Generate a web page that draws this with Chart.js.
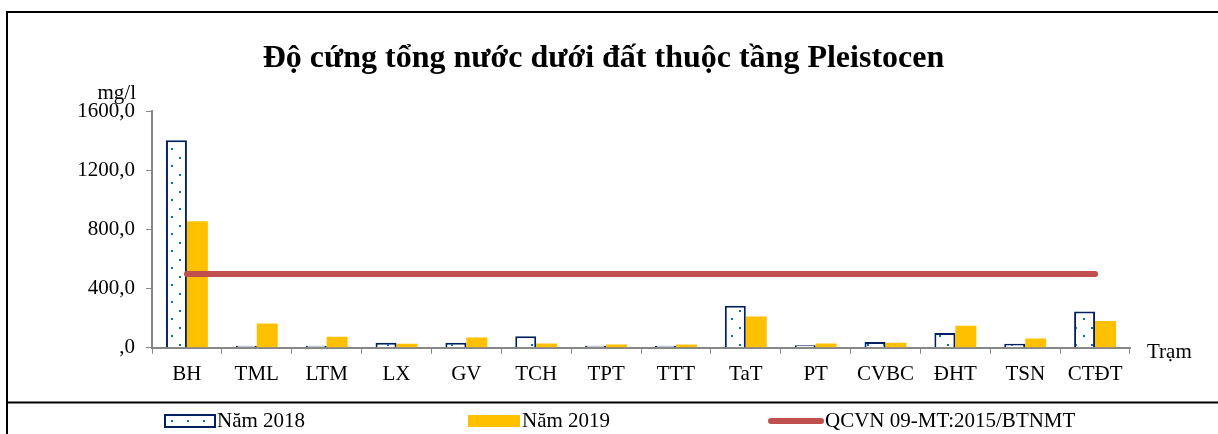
<!DOCTYPE html>
<html lang="vi">
<head>
    <meta charset="UTF-8">
    <title>Độ cứng tổng nước dưới đất thuộc tầng Pleistocen</title>
    <script src="https://cdn.jsdelivr.net/npm/chart.js"></script>
    <style>
        body { margin: 0; background: #fff; }
        canvas { display: block; }
    </style>
</head>
<body>
    <canvas id="chart" width="1218" height="434"></canvas>

    <script>
        const stations = ['BH', 'TML', 'LTM', 'LX', 'GV', 'TCH', 'TPT', 'TTT', 'TaT', 'PT', 'CVBC', 'ĐHT', 'TSN', 'CTĐT'];
        const nam2018 = [1404, 10, 6, 34, 34, 78, 13, 8, 284, 18, 40, 101, 27, 246];
        const nam2019 = [857, 164, 74, 27, 70, 29, 22, 22, 211, 29, 34, 149, 63, 182];
        const qcvn = [500, 500, 500, 500, 500, 500, 500, 500, 500, 500, 500, 500, 500, 500];
        const yTicks = [0, 400, 800, 1200, 1600];

        const serif = "'Liberation Serif', 'Times New Roman', serif";
        const axisGrey = '#868686';

        // dotted fill like the Excel pattern
        const pc = document.createElement('canvas');
        pc.width = 16; pc.height = 17;
        const pctx = pc.getContext('2d');
        pctx.fillStyle = '#fff';
        pctx.fillRect(0, 0, 16, 17);
        pctx.fillStyle = '#0070C0';
        pctx.fillRect(3, 4, 2, 2);
        pctx.fillRect(11, 12, 2, 2);
        const dots = pctx.createPattern(pc, 'repeat');

        // frame, unit labels and legend
        const extras = {
            id: 'extras',
            afterDraw(chart) {
                const ctx = chart.ctx;
                const area = chart.chartArea;
                ctx.save();
                ctx.strokeStyle = '#000';
                ctx.lineWidth = 2;
                ctx.beginPath();
                ctx.moveTo(7, 434); ctx.lineTo(7, 12); ctx.lineTo(1218, 12);
                ctx.moveTo(7, 402.5); ctx.lineTo(1218, 402.5);
                ctx.stroke();

                ctx.fillStyle = '#000';
                ctx.font = '21px ' + serif;
                ctx.textBaseline = 'alphabetic';
                ctx.textAlign = 'right';
                ctx.fillText('mg/l', area.left - 16, 99);
                ctx.textAlign = 'left';
                ctx.fillText('Trạm', area.right + 17, 358);

                // legend
                const ly = 421;
                const ds = chart.data.datasets;
                ctx.textBaseline = 'middle';
                ctx.fillStyle = dots;
                ctx.fillRect(165, ly - 6, 50, 12);
                ctx.strokeStyle = ds[0].borderColor;
                ctx.lineWidth = 2;
                ctx.strokeRect(165, ly - 6, 50, 12);
                ctx.fillStyle = '#000';
                ctx.fillText(ds[0].label, 217, ly);

                ctx.fillStyle = ds[1].backgroundColor;
                ctx.fillRect(468, ly - 6, 52, 12);
                ctx.fillStyle = '#000';
                ctx.fillText(ds[1].label, 522, ly);

                ctx.strokeStyle = ds[2].borderColor;
                ctx.lineWidth = 6;
                ctx.lineCap = 'round';
                ctx.beginPath();
                ctx.moveTo(771, ly); ctx.lineTo(821, ly);
                ctx.stroke();
                ctx.fillText(ds[2].label, 825, ly);
                ctx.restore();
            }
        };

        new Chart(document.getElementById('chart'), {
            type: 'bar',
            data: {
                labels: stations,
                datasets: [{
                    label: 'Năm 2018',
                    data: nam2018,
                    backgroundColor: dots,
                    borderColor: '#002060',
                    borderWidth: 2,
                    minBarLength: 2,
                    order: 1
                }, {
                    label: 'Năm 2019',
                    data: nam2019,
                    backgroundColor: '#FFC000',
                    borderWidth: 0,
                    order: 1
                }, {
                    type: 'line',
                    label: 'QCVN 09-MT:2015/BTNMT',
                    data: qcvn,
                    borderColor: '#C0504D',
                    borderWidth: 6,
                    borderCapStyle: 'round',
                    pointRadius: 0,
                    order: 0
                }]
            },
            options: {
                responsive: false,
                devicePixelRatio: 1,
                animation: false,
                layout: { padding: { left: 77, right: 88, top: 0, bottom: 39 } },
                datasets: { bar: { barPercentage: 1, categoryPercentage: 0.6 } },
                plugins: {
                    legend: { display: false },
                    tooltip: { enabled: false },
                    title: {
                        display: true,
                        text: 'Độ cứng tổng nước dưới đất thuộc tầng Pleistocen',
                        color: '#000',
                        font: { family: serif, size: 32, weight: 'bold' },
                        padding: { top: 40, bottom: 33 }
                    }
                },
                scales: {
                    x: {
                        grid: { drawOnChartArea: false, drawTicks: true, tickLength: 6, color: axisGrey, offset: true },
                        border: { color: axisGrey, width: 2 },
                        ticks: { color: '#000', font: { family: serif, size: 21 }, padding: 8, maxRotation: 0, autoSkip: false }
                    },
                    y: {
                        min: 0,
                        max: 1600,
                        afterFit(scale) { scale.width = 75; },
                        afterBuildTicks(scale) { scale.ticks = yTicks.map(v => ({ value: v })); },
                        grid: { drawOnChartArea: false, drawTicks: true, tickLength: 6, color: axisGrey },
                        border: { color: axisGrey, width: 2 },
                        ticks: {
                            color: '#000',
                            font: { family: serif, size: 21 },
                            padding: 11,
                            callback: v => v === 0 ? ',0' : v.toFixed(1).replace('.', ',')
                        }
                    }
                }
            },
            plugins: [extras]
        });
    </script>
</body>
</html>
